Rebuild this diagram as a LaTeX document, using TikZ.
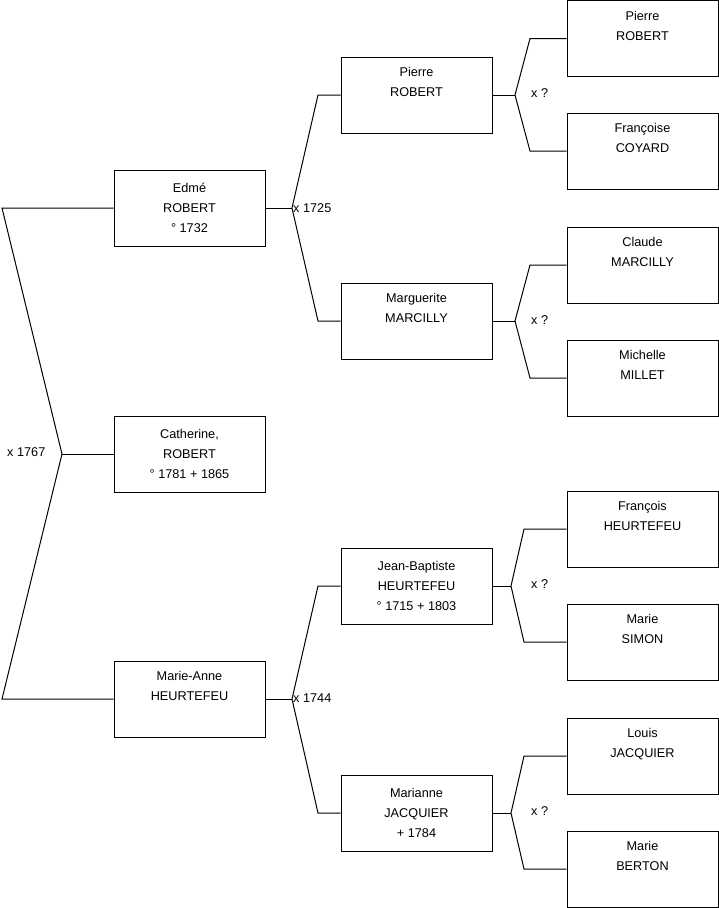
\documentclass[tikz,border=0pt]{standalone}
\usepackage{fontspec}
\setmainfont{Liberation Sans}
\begin{document}
\begin{tikzpicture}[x=1pt,y=-1pt,
  person/.style={draw=black,line width=1pt,minimum width=151pt,minimum height=76pt,inner sep=0pt,align=center,font=\fontsize{12.7}{20}\selectfont},
  link/.style={draw=black,line width=1pt},
  lab/.style={inner sep=0pt,font=\fontsize{12.7}{14}\selectfont}]
\useasboundingbox (0,0) rectangle (719,908);
% left column
\node[person] (edme) at (189.5,208) {Edmé\\ROBERT\\° 1732};
\node[person] (cath) at (189.5,454) {Catherine,\\ROBERT\\° 1781 + 1865};
\node[person] (manne) at (189.5,699) {Marie-Anne\\HEURTEFEU\\\strut};
% middle column
\node[person] (pierre) at (416.5,95) {Pierre\\ROBERT\\\strut};
\node[person] (marg) at (416.5,321) {Marguerite\\MARCILLY\\\strut};
\node[person] (jb) at (416.5,586) {Jean-Baptiste\\HEURTEFEU\\° 1715 + 1803};
\node[person] (marianne) at (416.5,813) {Marianne\\JACQUIER\\+ 1784};
% right column
\node[person] (pierre2) at (642.5,38.5) {Pierre\\ROBERT\\\strut};
\node[person] (franc) at (642.5,151) {Françoise\\COYARD\\\strut};
\node[person] (claude) at (642.5,265) {Claude\\MARCILLY\\\strut};
\node[person] (mich) at (642.5,378) {Michelle\\MILLET\\\strut};
\node[person] (fran) at (642.5,529) {François\\HEURTEFEU\\\strut};
\node[person] (msimon) at (642.5,642) {Marie\\SIMON\\\strut};
\node[person] (louis) at (642.5,756) {Louis\\JACQUIER\\\strut};
\node[person] (mberton) at (642.5,869) {Marie\\BERTON\\\strut};
% fork 1767
\coordinate (f0a) at (2,208);
\coordinate (f0v) at (62,454);
\coordinate (f0b) at (2,699);
\draw[link] (edme.west) -- (f0a) -- (f0v) -- (f0b) -- (manne.west);
\draw[link] (f0v) -- (cath.west);
\node[lab,anchor=west] (l0) at (7,452) {x 1767};
% fork 1725
\coordinate (f1v) at (292,208);
\coordinate (f1a) at (318,95);
\coordinate (f1b) at (318,321);
\draw[link] (edme.east) -- (f1v);
\draw[link] (pierre.west) -- (f1a) -- (f1v) -- (f1b) -- (marg.west);
\node[lab,anchor=west] (l1) at (293,208) {x 1725};
% fork 1744
\coordinate (f2v) at (292,699);
\coordinate (f2a) at (318,586);
\coordinate (f2b) at (318,813);
\draw[link] (manne.east) -- (f2v);
\draw[link] (jb.west) -- (f2a) -- (f2v) -- (f2b) -- (marianne.west);
\node[lab,anchor=west] (l2) at (293,698) {x 1744};
% right forks
\coordinate (f3v) at (515,95);
\coordinate (f3a) at (530,38.5);
\coordinate (f3b) at (530,151);
\draw[link] (pierre.east) -- (f3v);
\draw[link] (pierre2.west) -- (f3a) -- (f3v) -- (f3b) -- (franc.west);
\node[lab,anchor=west] (l3) at (531,93) {x ?};
\coordinate (f4v) at (515,321);
\coordinate (f4a) at (530,265);
\coordinate (f4b) at (530,378);
\draw[link] (marg.east) -- (f4v);
\draw[link] (claude.west) -- (f4a) -- (f4v) -- (f4b) -- (mich.west);
\node[lab,anchor=west] (l4) at (531,320) {x ?};
\coordinate (f5v) at (511,586);
\coordinate (f5a) at (524,529);
\coordinate (f5b) at (524,642);
\draw[link] (jb.east) -- (f5v);
\draw[link] (fran.west) -- (f5a) -- (f5v) -- (f5b) -- (msimon.west);
\node[lab,anchor=west] (l5) at (531,584) {x ?};
\coordinate (f6v) at (511,813);
\coordinate (f6a) at (524,756);
\coordinate (f6b) at (524,869);
\draw[link] (marianne.east) -- (f6v);
\draw[link] (louis.west) -- (f6a) -- (f6v) -- (f6b) -- (mberton.west);
\node[lab,anchor=west] (l6) at (531,811) {x ?};
\end{tikzpicture}
\end{document}
